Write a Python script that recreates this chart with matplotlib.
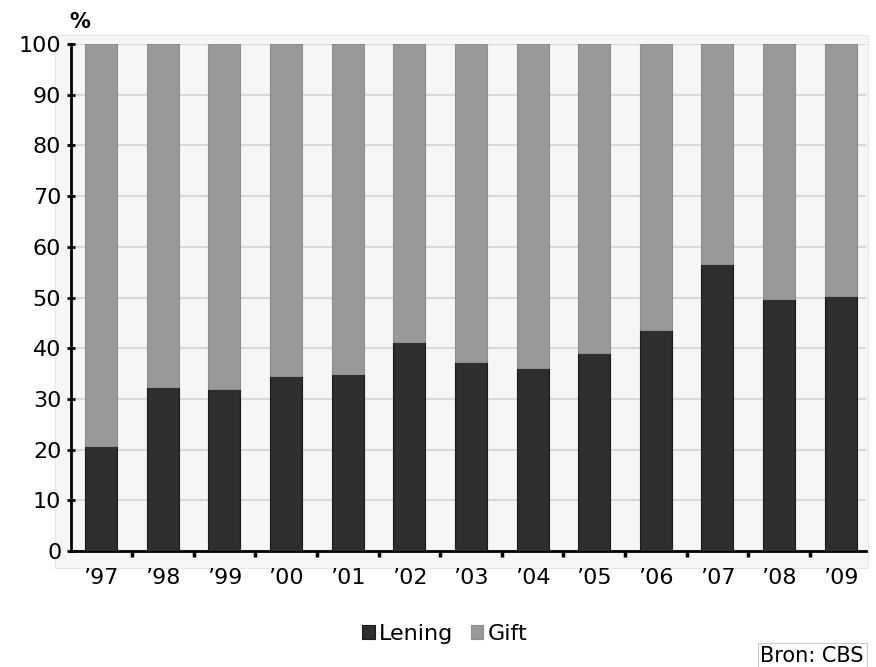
import matplotlib.pyplot as plt
from matplotlib.patches import Rectangle
import numpy as np

plt.rcParams['font.family'] = ['DejaVu Sans']

years = ["’97", "’98", "’99", "’00", "’01", "’02", "’03", "’04", "’05", "’06", "’07", "’08", "’09"]
lening = [20.7, 32.4, 32.0, 34.6, 34.9, 41.3, 37.3, 36.1, 39.0, 43.6, 56.6, 49.7, 50.3]
gift = [100 - v for v in lening]

fig = plt.figure(figsize=(8.76, 6.67), dpi=100)
# light panel behind the plot
fig.patches.append(Rectangle((55 / 876, 1 - 568 / 667), (868 - 55) / 876, (568 - 35) / 667,
                             transform=fig.transFigure, facecolor='#f6f6f6',
                             edgecolor='#e6e6e6', lw=0.8, zorder=-10))
ax = fig.add_axes([71 / 876, 1 - 551 / 667, (866 - 71) / 876, (551 - 44) / 667])
ax.set_facecolor('#f6f6f6')

x = np.arange(len(years))
ax.bar(x, lening, width=0.52, color='#2e2e2e', edgecolor='#1a1a1a', lw=0.8, label='Lening', zorder=3)
ax.bar(x, gift, width=0.52, bottom=lening, color='#999999', edgecolor='#8c8c8c', lw=0.8,
       label='Gift', zorder=3)

ax.set_xlim(-0.49, len(years) - 0.59)
ax.set_ylim(0, 100)
ax.set_yticks(range(0, 101, 10))
ax.yaxis.grid(True, color='#d9d9d9', lw=1.5, zorder=0)
ax.set_axisbelow(True)

ax.set_xticks(x)
ax.set_xticklabels(years)
ax.set_xticks(x[:-1] + 0.5, minor=True)
ax.tick_params(axis='x', which='major', length=0, labelsize=16, pad=12)
ax.tick_params(axis='x', which='minor', length=4, width=2.5, direction='out')
ax.tick_params(axis='y', length=6, width=2, direction='inout', labelsize=16, pad=4)

for s in ['top', 'right']:
    ax.spines[s].set_visible(False)
ax.spines['left'].set_linewidth(2)
ax.spines['bottom'].set_linewidth(2)

fig.text(69 / 876, 1 - 22 / 667, '%', fontsize=15, fontweight='bold', va='center', ha='left')

fig.legend(loc='center', bbox_to_anchor=(445 / 876, 1 - 634 / 667), ncol=2, frameon=False,
           fontsize=16, handlelength=0.55, handleheight=0.55, handletextpad=0.2, columnspacing=0.8)

fig.text(864 / 876, 1 - 656 / 667, 'Bron: CBS', fontsize=15, ha='right', va='center',
         bbox=dict(facecolor='white', edgecolor='#cccccc', lw=0.8, pad=2))

fig.savefig('out.png', dpi=100)
